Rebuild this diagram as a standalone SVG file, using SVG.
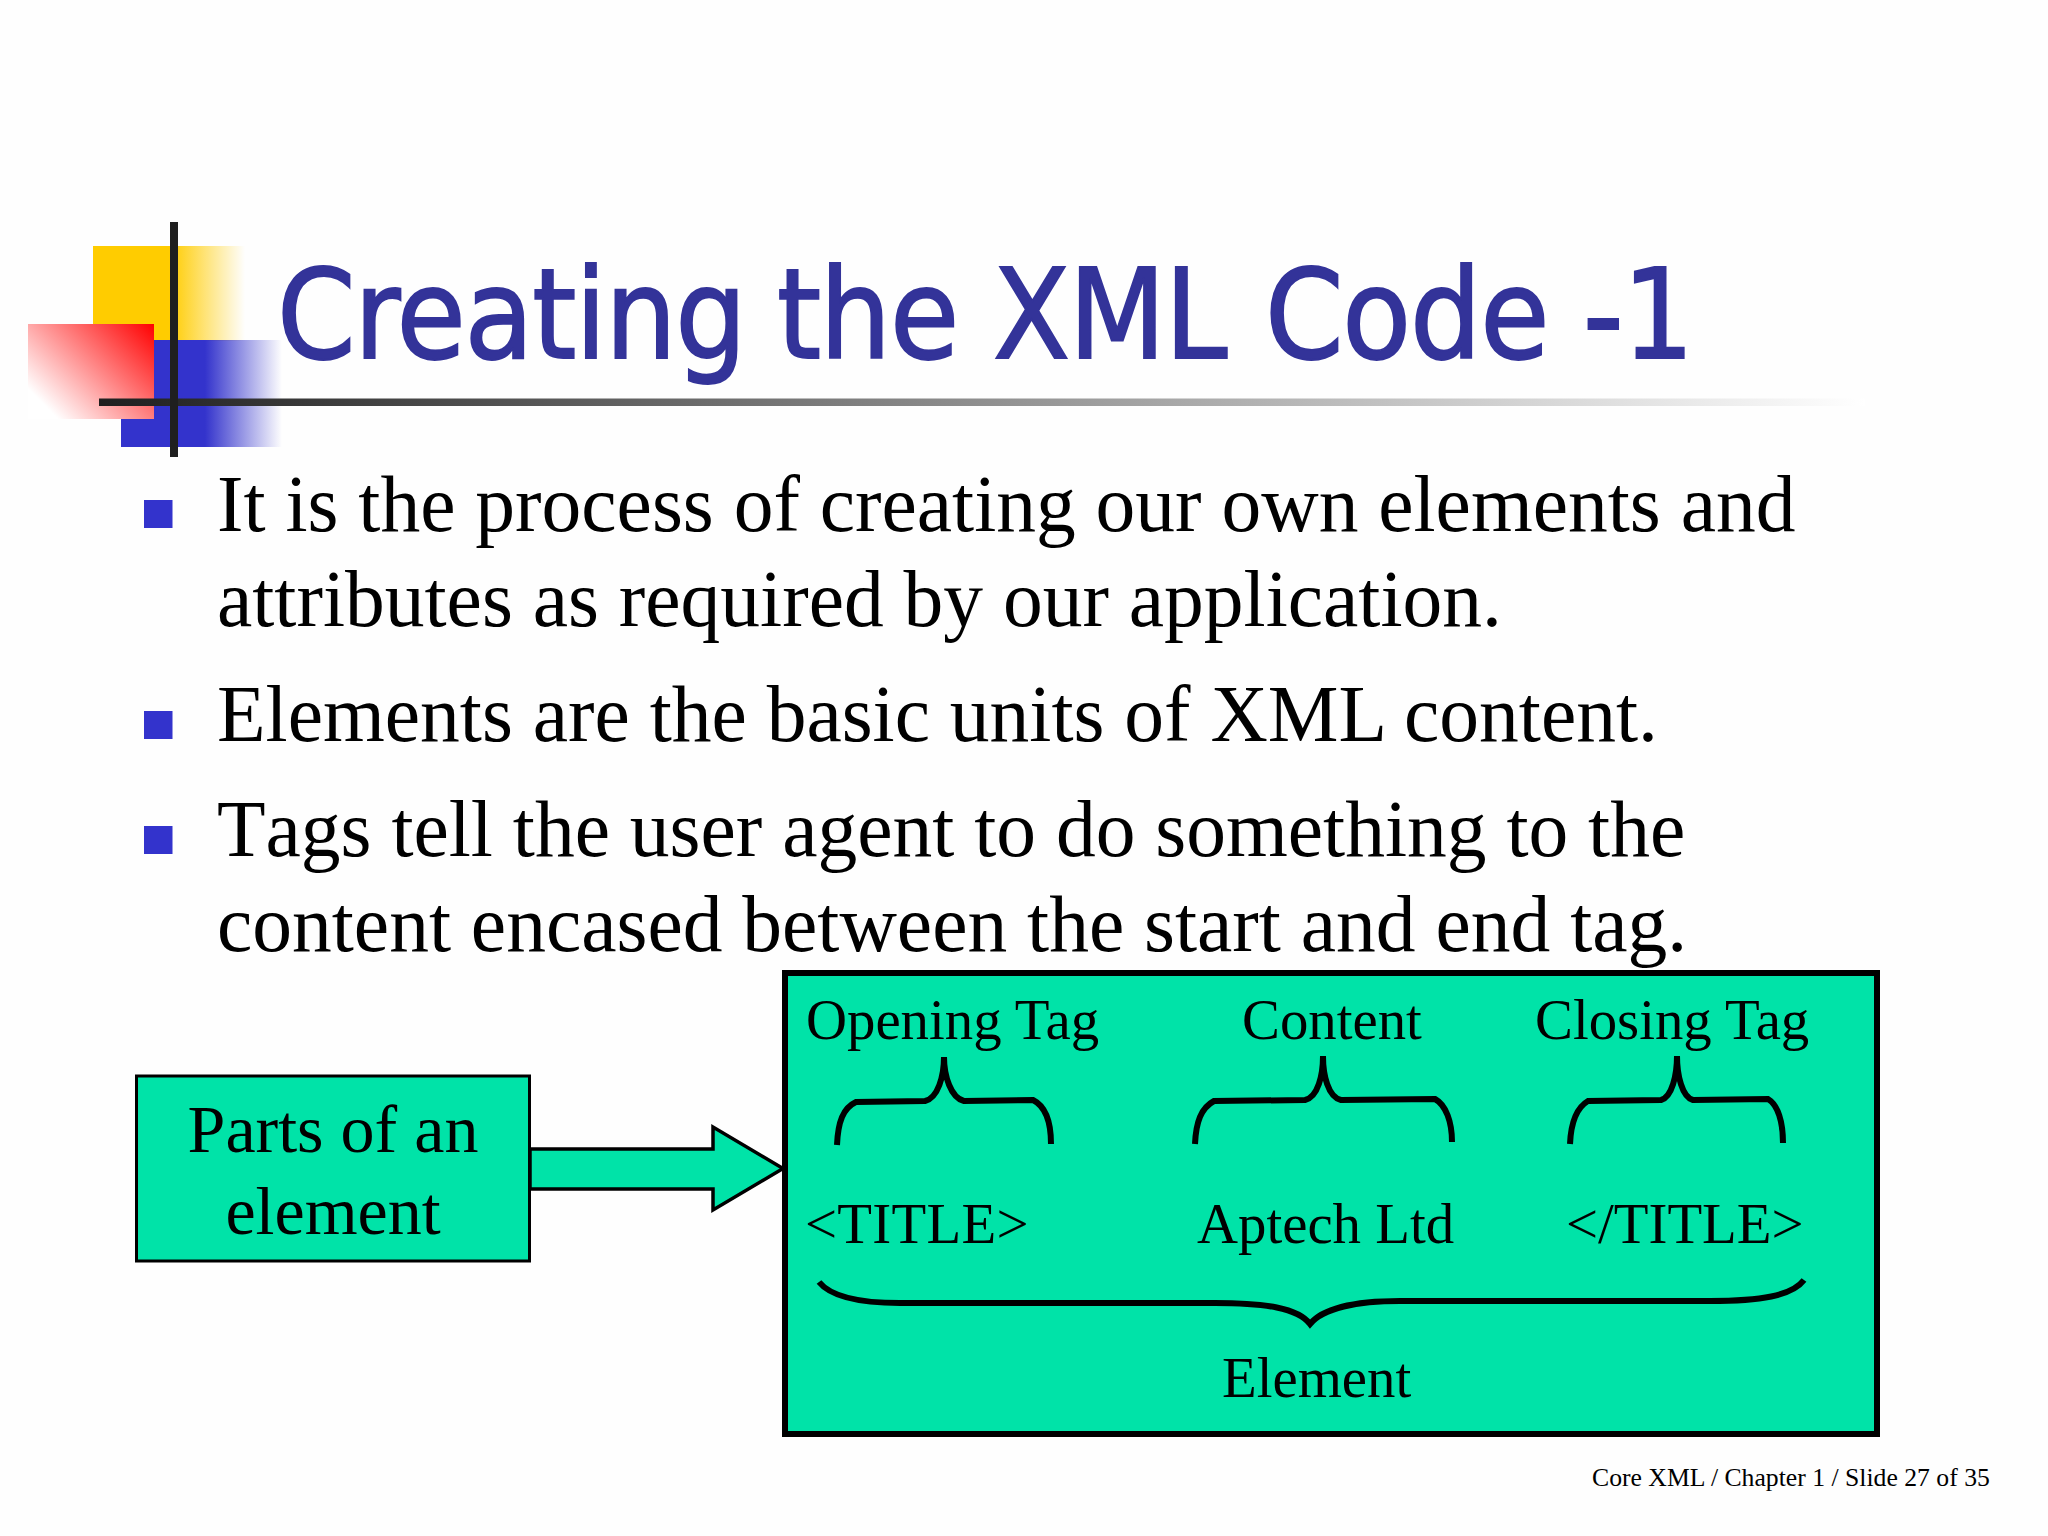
<svg xmlns="http://www.w3.org/2000/svg" width="2048" height="1536" viewBox="0 0 2048 1536">
<style>
.s{font-family:"Liberation Serif","Times New Roman",serif;fill:#000}
.b{font-size:79.500px}.l{font-size:56.800px}.m{font-size:68px;text-anchor:middle}
.g{fill:#00E3A8;stroke:#000}
.br{fill:none;stroke:#000;stroke-width:6}
.bu{fill:#3333CC}
</style>
<defs>
<linearGradient id="gy" gradientUnits="userSpaceOnUse" x1="170" y1="0" x2="245" y2="0"><stop offset="0" stop-color="#FFCC00"/><stop offset="1" stop-color="#FFCC00" stop-opacity="0"/></linearGradient>
<linearGradient id="gb" gradientUnits="userSpaceOnUse" x1="205" y1="0" x2="282" y2="0"><stop offset="0" stop-color="#3333CC"/><stop offset="1" stop-color="#3333CC" stop-opacity="0"/></linearGradient>
<linearGradient id="gr" gradientUnits="userSpaceOnUse" x1="154" y1="324" x2="58" y2="419"><stop offset="0" stop-color="#FF0000"/><stop offset="1" stop-color="#FFFFFF"/></linearGradient>
<linearGradient id="gl" gradientUnits="userSpaceOnUse" x1="99" y1="0" x2="1865" y2="0"><stop offset="0" stop-color="#1F1F1F"/><stop offset="1" stop-color="#FFFFFF"/></linearGradient>
</defs>
<rect width="2048" height="1536" fill="#FEFEFE"/>
<g id="logo">
<rect x="93" y="246" width="152" height="95" fill="url(#gy)"/>
<rect x="121" y="340" width="161" height="107" fill="url(#gb)"/>
<rect x="28" y="324" width="126" height="95" fill="url(#gr)"/>
<rect x="99" y="398.500" width="1766" height="7.500" fill="url(#gl)"/>
<rect x="170" y="222" width="8" height="235" fill="#1F1F1F"/>
</g>
<text id="title" y="358" font-family="'DejaVu Sans Condensed','DejaVu Sans',sans-serif" font-size="125" letter-spacing="-1.200" stroke="#333399" stroke-width="1.800" fill="#333399"><tspan x="277">Creating</tspan> <tspan x="777">the</tspan> <tspan x="993">XML</tspan> <tspan x="1265">Code</tspan> <tspan x="1583">-1</tspan></text>
<g id="bullets">
<rect class="bu" x="144" y="500" width="28.500" height="28"/>
<rect class="bu" x="144" y="711" width="28.500" height="28"/>
<rect class="bu" x="144" y="826" width="28.500" height="28"/>
<text class="s b" x="217" y="531">It is the process of creating our own elements and</text>
<text class="s b" x="217" y="626">attributes as required by our application.</text>
<text class="s b" x="217" y="741">Elements are the basic units of XML content.</text>
<text class="s b" x="217" y="856" style="font-kerning:none">Tags tell the user agent to do something to the</text>
<text class="s b" x="217" y="951">content encased between the start and end tag.</text>
</g>
<g id="parts-node">
<rect class="g" x="136.500" y="1076" width="393" height="185" stroke-width="3"/>
<text class="s m" x="333" y="1152">Parts of an</text>
<text class="s m" x="333" y="1234">element</text>
</g>
<g id="connectors">
<path class="g" stroke-width="3.500" d="M530 1149H713V1127L783 1168.500 713 1210V1189H530Z"/>
</g>
<g id="element-node">
<rect class="g" x="785" y="973" width="1092" height="461" stroke-width="6"/>
<text class="s l" x="806" y="1039">Opening Tag</text>
<text class="s l" x="1242" y="1039">Content</text>
<text class="s l" x="1535" y="1039">Closing Tag</text>
<text class="s l" x="805" y="1243" style="letter-spacing:.3px">&lt;TITLE&gt;</text>
<text class="s l" x="1197" y="1243">Aptech Ltd</text>
<text class="s l" x="1566" y="1243">&lt;/TITLE&gt;</text>
<text class="s l" x="1222" y="1397">Element</text>
<path class="br" d="M837 1145C838 1122 843 1108 856 1102L925 1101C938 1098 944 1076 944 1057C944 1076 951 1098 964 1101L1033 1100C1045 1106 1051 1122 1051 1144"/>
<path class="br" d="M1195 1144C1196 1122 1201 1108 1214 1101L1305 1100C1318 1097 1323 1075 1323 1056C1323 1075 1328 1097 1341 1100L1435 1099C1446 1105 1452 1122 1452 1142"/>
<path class="br" d="M1570 1144C1571 1122 1576 1108 1588 1101L1661 1100C1672 1097 1677 1075 1677 1056C1677 1075 1682 1097 1693 1100L1768 1099C1778 1105 1783 1122 1783 1143"/>
<path class="br" d="M819 1282C831 1297 860 1303 900 1303L1215 1303C1265 1303 1298 1308 1310 1324C1323 1308 1357 1301 1400 1301L1710 1301C1760 1301 1792 1296 1804 1280"/>
</g>
<text id="footer" class="s" x="1592" y="1486" font-size="25.700">Core XML / Chapter 1 / Slide 27 of 35</text>
</svg>
